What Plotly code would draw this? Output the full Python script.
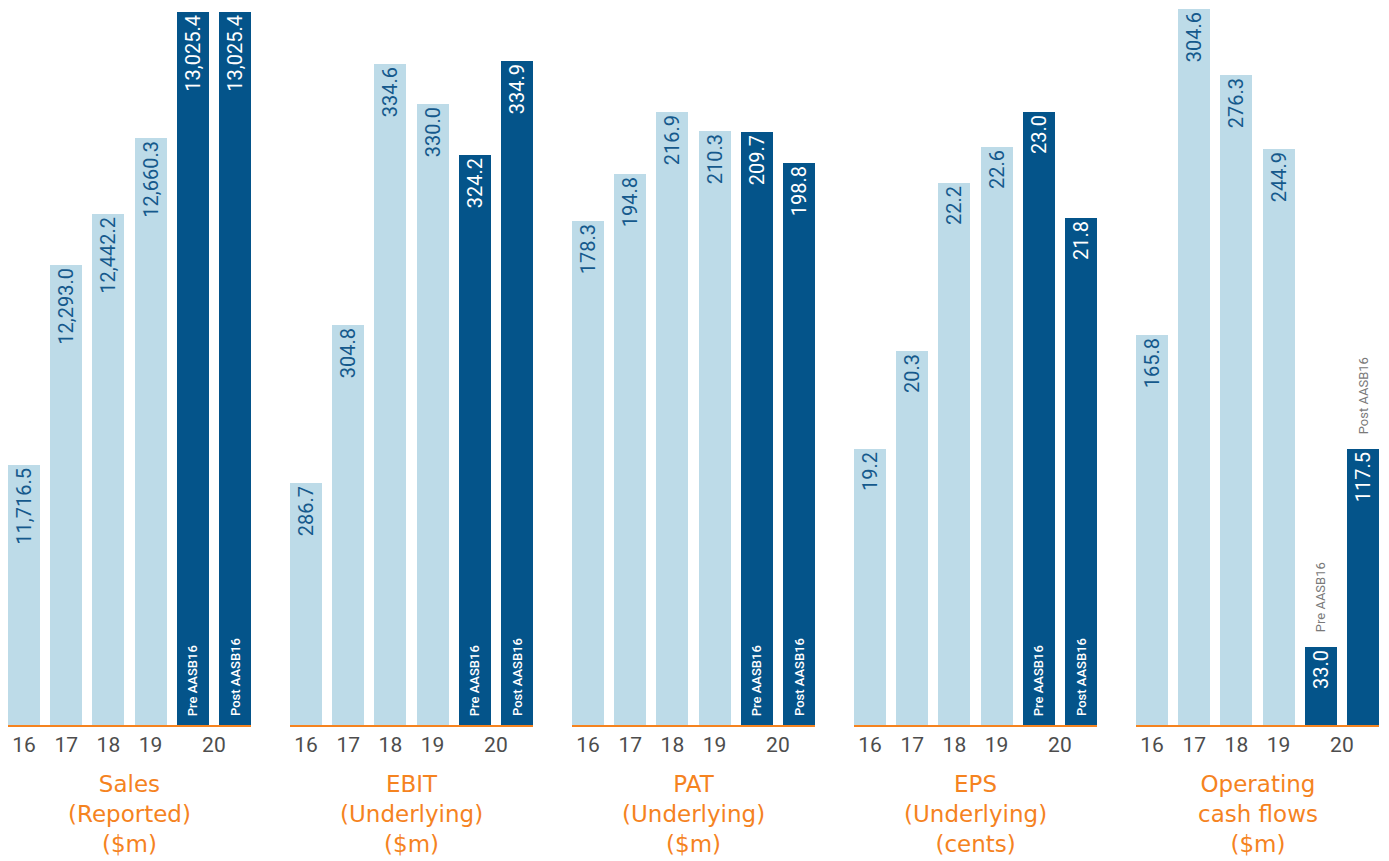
import plotly.graph_objects as go

# ---- data ----
year_labels = ['16', '17', '18', '19', '20']
bar_slots = ['16', '17', '18', '19', '20 Pre AASB16', '20 Post AASB16']
sales = [11716.5, 12293.0, 12442.2, 12660.3, 13025.4, 13025.4]
ebit = [286.7, 304.8, 334.6, 330.0, 324.2, 334.9]
pat = [178.3, 194.8, 216.9, 210.3, 209.7, 198.8]
eps = [19.2, 20.3, 22.2, 22.6, 23.0, 21.8]
ocf = [165.8, 304.6, 276.3, 244.9, 33.0, 117.5]
titles = ['Sales<br>(Reported)<br>($m)',
          'EBIT<br>(Underlying)<br>($m)',
          'PAT<br>(Underlying)<br>($m)',
          'EPS<br>(Underlying)<br>(cents)',
          'Operating<br>cash flows<br>($m)']
series = [sales, ebit, pat, eps, ocf]
pre_post = ['Pre AASB16', 'Post AASB16']

# ---- styling / layout ----
# the page body has an 8px margin, so the figure is drawn 8px smaller
W, H = 1381, 853
LIGHT = '#BDDBE8'
DARK = '#04548A'
LIGHT_TXT = '#15598C'
ORANGE = '#F5831F'
NUMF = 'Roboto, Liberation Sans, sans-serif'
TITLEF = 'DejaVu Sans, Noto Sans, sans-serif'
y_ranges = [[10965.3, 13037.0], [259.03, 341.0], [0, 253.7], [16.088, 24.17], [0, 305.0]]
base_px = 717
panel_left = [282 * k for k in range(5)]
panel_w = 243
ydom = [(H - base_px) / H, 1.0]
title_center_px = 806
xpos = list(range(6))
colors = [LIGHT] * 4 + [DARK] * 2
txtcolors = [LIGHT_TXT] * 4 + ['white'] * 2

fig = go.Figure()
annotations = []
for k, vals in enumerate(series):
    sfx = '' if k == 0 else str(k + 1)
    fig.add_trace(go.Bar(
        x=xpos, y=vals, width=0.76, marker=dict(color=colors, line=dict(width=0)),
        texttemplate='%{y:,.1f}', textposition='inside', insidetextanchor='end',
        textangle=-90, textfont=dict(family=NUMF, size=20, color=txtcolors),
        xaxis='x' + sfx, yaxis='y' + sfx, showlegend=False, hoverinfo='skip',
        customdata=bar_slots,
    ))
    x0 = panel_left[k] / W
    x1 = (panel_left[k] + panel_w) / W
    fig.layout['xaxis' + sfx] = dict(
        domain=[x0, x1], range=[-0.38, 5.38], anchor='y' + sfx,
        tickvals=[0, 1, 2, 3, 4.5], ticktext=year_labels, ticks='',
        tickfont=dict(family=NUMF, size=21, color='#4D4D4D'),
        showline=True, linecolor=ORANGE, linewidth=1.5, showgrid=False,
        zeroline=False, fixedrange=True)
    fig.layout['yaxis' + sfx] = dict(
        domain=ydom, range=y_ranges[k], anchor='x' + sfx, visible=False,
        showgrid=False, zeroline=False, fixedrange=True)
    annotations.append(dict(
        text=titles[k], xref='paper', yref='paper', x=(x0 + x1) / 2,
        y=1 - title_center_px / H, xanchor='center', yanchor='middle',
        showarrow=False, borderpad=0,
        font=dict(family=TITLEF, size=23, color=ORANGE)))
    for j, lab in enumerate(pre_post):
        if k < 4:
            annotations.append(dict(
                text=lab, xref='x' + sfx, yref='y' + sfx, x=4 + j,
                y=y_ranges[k][0], yanchor='bottom', xanchor='center',
                yshift=7, textangle=-90, showarrow=False,
                font=dict(family=NUMF, size=13, color='white', weight=500)))
        else:
            annotations.append(dict(
                text=lab, xref='x' + sfx, yref='y' + sfx, x=4 + j,
                y=vals[4 + j], yanchor='bottom', xanchor='center',
                yshift=13, textangle=-90, showarrow=False,
                font=dict(family=NUMF, size=13, color='#7A7A7A')))

fig.update_layout(width=W, height=H, margin=dict(l=0, r=0, t=0, b=0),
                  paper_bgcolor='white', plot_bgcolor='white',
                  annotations=annotations, bargap=0)
fig.write_html('out.html')
